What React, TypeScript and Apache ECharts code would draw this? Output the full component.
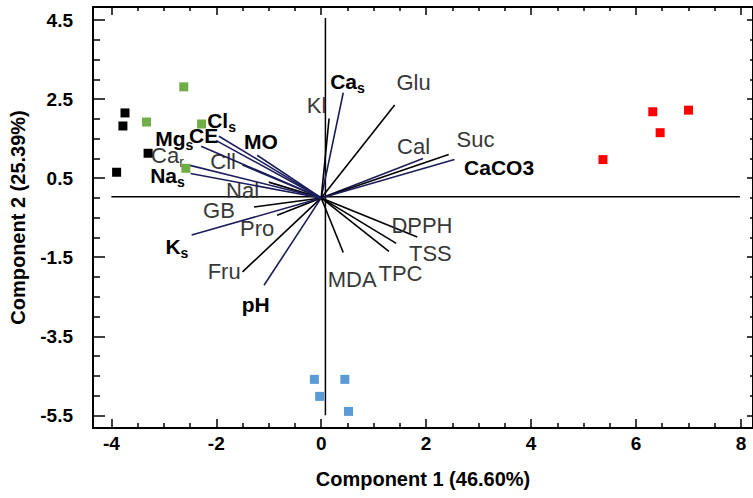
import React, { useEffect, useRef } from "react";
import * as echarts from "echarts";

// ---- Scores (sample groups) ----
const groupBlack = [[-3.74, 2.15], [-3.78, 1.82], [-3.3, 1.13], [-3.9, 0.65]];
const groupGreen = [[-2.62, 2.81], [-3.33, 1.92], [-2.28, 1.87], [-2.58, 0.75]];
const groupRed = [[6.32, 2.18], [7.0, 2.22], [6.46, 1.65], [5.37, 0.97]];
const groupBlue = [[-0.13, -4.59], [0.45, -4.59], [-0.03, -5.02], [0.52, -5.4]];

// ---- Loadings (variables) ----
const varNames = ["Ca_s", "Kl", "Glu", "Cal", "Suc", "CaCO3", "DPPH", "TSS", "TPC", "MDA", "Cll", "NaI", "GB", "Pro", "K_s", "Fru", "pH", "Cl_s", "CE", "Mg_s", "MO", "Ca_r", "Na_s"];
const varLabels = ["Ca_s", "Kl", "Glu", "Cal", "Suc", "CaCO3", "DPPH", "TSS", "TPC", "MDA", "Cll", "Nal", "GB", "Pro", "K_s", "Fru", "pH", "Cl_s", "CE", "Mg_s", "MO", "Ca_r", "Na_s"];
const loadX = [0.42, 0.15, 1.4, 1.94, 2.43, 2.54, 1.83, 1.43, 1.29, 0.42, -1.5, -1.0, -1.28, -0.84, -2.47, -1.5, -1.09, -1.95, -2.0, -2.29, -1.22, -2.52, -2.49];
const loadY = [2.66, 2.01, 2.35, 1.0, 1.1, 0.97, -0.99, -1.15, -1.35, -1.38, 0.83, 0.4, -0.23, -0.44, -0.94, -1.87, -2.21, 1.56, 1.45, 1.31, 1.08, 0.83, 0.62];
const labelX = [0.5, -0.09, 1.76, 1.76, 2.94, 3.39, 1.92, 2.08, 1.51, 0.59, -1.87, -1.5, -1.95, -1.22, -2.75, -1.85, -1.25, -1.9, -2.24, -2.8, -1.15, -2.93, -2.93];
const labelY = [2.94, 2.35, 2.93, 1.29, 1.49, 0.78, -0.69, -1.4, -1.9, -2.06, 0.91, 0.2, -0.31, -0.77, -1.22, -1.85, -2.69, 1.97, 1.59, 1.51, 1.42, 1.08, 0.58];
const boldVars = ["Ca_s", "CaCO3", "Cl_s", "CE", "MO", "Mg_s", "Na_s", "K_s", "pH"];
const navyVars = ["Ca_s", "Cal", "CaCO3", "Cl_s", "CE", "MO", "Mg_s", "Na_s", "Ca_r", "K_s", "pH", "Cll"];

// ---- Reference axes lines through origin ----
const hRefLine = [[-4, 0.03], [7.98, 0.03]];
const vRefLine = [[0.08, -5.5], [0.08, 4.55]];

// ---- Ticks ----
const xMajor = [-4, -2, 0, 2, 4, 6, 8];
const xMinor = [-3.5, -3, -2.5, -1.5, -1, -0.5, 0.5, 1, 1.5, 2.5, 3, 3.5, 4.5, 5, 5.5, 6.5, 7, 7.5];
const yMajor = [-5.5, -3.5, -1.5, 0.5, 2.5, 4.5];
const yMinor = [-5, -4.5, -4, -3, -2.5, -2, -1, -0.5, 0, 1, 1.5, 2, 3, 3.5, 4];

const X_MIN = -4.35, X_MAX = 8.23, Y_MIN = -5.82, Y_MAX = 4.83;

const NAVY = "#1c1c5a";
const FONT = "Arial, 'Liberation Sans', Helvetica, sans-serif";

function richText(label: string) {
  const bold = boldVars.includes(label);
  const parts = label.split("_");
  const m = bold ? "mb" : "mr";
  const s = bold ? "sb" : "sr";
  if (parts.length === 2) return `{${m}|${parts[0]}}{${s}|${parts[1]}}`;
  return `{${m}|${parts[0]}}`;
}

const rich = {
  mb: { fontSize: 21, fontWeight: "bold", fontFamily: FONT, fill: "#000" },
  sb: { fontSize: 14, fontWeight: "bold", fontFamily: FONT, fill: "#000", padding: [13, 0, 0, 0] },
  mr: { fontSize: 22, fontWeight: "normal", fontFamily: FONT, fill: "#383838" },
  sr: { fontSize: 14, fontWeight: "normal", fontFamily: FONT, fill: "#383838", padding: [13, 0, 0, 0] },
};

export default function App() {
  const ref = useRef<HTMLDivElement>(null);
  useEffect(() => {
    if (!ref.current) return;
    const chart = echarts.init(ref.current, undefined, { renderer: "svg" });
    const loadData = varNames.map((n, i) => [loadX[i], loadY[i], labelX[i], labelY[i], i]);

    const axisTickBase = { inside: true, lineStyle: { color: "#000", width: 1.5 } };
    const xBase = { type: "value", min: X_MIN, max: X_MAX, splitLine: { show: false } };
    const yBase = { type: "value", min: Y_MIN, max: Y_MAX, splitLine: { show: false } };
    const tickLabel = { color: "#000", fontWeight: "bold", fontSize: 19, fontFamily: FONT };

    const option: any = {
      animation: false,
      backgroundColor: "#fff",
      grid: { left: 92, right: 0, top: 7, bottom: 70, containLabel: false },
      xAxis: [
        {
          ...xBase,
          position: "bottom",
          axisLine: { show: true, onZero: false, lineStyle: { color: "#000", width: 2 } },
          axisTick: { ...axisTickBase, length: 9, customValues: xMajor },
          axisLabel: { ...tickLabel, customValues: xMajor, margin: 6 },
          name: "Component 1 (46.60%)",
          nameLocation: "middle",
          nameGap: 41,
          nameTextStyle: { color: "#000", fontWeight: "bold", fontSize: 20, fontFamily: FONT },
        },
        {
          ...xBase,
          position: "bottom",
          axisLine: { show: false, onZero: false },
          axisTick: { ...axisTickBase, length: 5, customValues: xMinor },
          axisLabel: { show: false },
        },
        {
          ...xBase,
          position: "top",
          axisLine: { show: true, onZero: false, lineStyle: { color: "#000", width: 2 } },
          axisTick: { ...axisTickBase, length: 8, customValues: xMajor },
          axisLabel: { show: false },
        },
        {
          ...xBase,
          position: "top",
          axisLine: { show: false, onZero: false },
          axisTick: { ...axisTickBase, length: 4, customValues: xMinor },
          axisLabel: { show: false },
        },
      ],
      yAxis: [
        {
          ...yBase,
          position: "left",
          axisLine: { show: true, onZero: false, lineStyle: { color: "#000", width: 2 } },
          axisTick: { ...axisTickBase, length: 12, customValues: yMajor },
          axisLabel: { ...tickLabel, customValues: yMajor, margin: 20 },
          name: "Component 2 (25.39%)",
          nameLocation: "middle",
          nameGap: 65,
          nameTextStyle: { color: "#000", fontWeight: "bold", fontSize: 20, fontFamily: FONT },
        },
        {
          ...yBase,
          position: "left",
          axisLine: { show: false, onZero: false },
          axisTick: { ...axisTickBase, length: 7, customValues: yMinor },
          axisLabel: { show: false },
        },
        {
          ...yBase,
          position: "right",
          axisLine: { show: true, onZero: false, lineStyle: { color: "#000", width: 2 } },
          axisTick: { ...axisTickBase, length: 6, customValues: yMajor },
          axisLabel: { show: false },
        },
        {
          ...yBase,
          position: "right",
          axisLine: { show: false, onZero: false },
          axisTick: { ...axisTickBase, length: 3, customValues: yMinor },
          axisLabel: { show: false },
        },
      ],
      series: [
        {
          type: "line",
          data: hRefLine,
          symbol: "none",
          lineStyle: { color: "#000", width: 1.5 },
          z: 1,
          silent: true,
        },
        {
          type: "line",
          data: vRefLine,
          symbol: "none",
          lineStyle: { color: "#000", width: 1.5 },
          z: 1,
          silent: true,
        },
        {
          type: "custom",
          data: loadData,
          z: 2,
          renderItem: (params: any, api: any) => {
            const i = api.value(4);
            const name = varNames[i];
            const o = api.coord([0, 0]);
            const e = api.coord([api.value(0), api.value(1)]);
            const l = api.coord([api.value(2), api.value(3)]);
            return {
              type: "group",
              children: [
                {
                  type: "line",
                  shape: { x1: o[0], y1: o[1], x2: e[0], y2: e[1] },
                  style: { stroke: navyVars.includes(name) ? NAVY : "#000", lineWidth: 1.6 },
                },
                {
                  type: "text",
                  x: l[0],
                  y: l[1],
                  style: {
                    text: richText(varLabels[i]),
                    rich,
                    align: "center",
                    verticalAlign: "middle",
                  },
                },
              ],
            };
          },
        },
        { type: "scatter", data: groupBlack, symbol: "rect", symbolSize: 9, itemStyle: { color: "#000", opacity: 1 }, z: 5 },
        { type: "scatter", data: groupGreen, symbol: "rect", symbolSize: 9, itemStyle: { color: "#70AD47", opacity: 1 }, z: 5 },
        { type: "scatter", data: groupRed, symbol: "rect", symbolSize: 9, itemStyle: { color: "#FF0000", opacity: 1 }, z: 5 },
        { type: "scatter", data: groupBlue, symbol: "rect", symbolSize: 9, itemStyle: { color: "#5B9BD5", opacity: 1 }, z: 5 },
      ],
    };
    chart.setOption(option);
    return () => chart.dispose();
  }, []);
  return <div ref={ref} style={{ width: 753, height: 498, position: "absolute", left: 0, top: 0 }} />;
}
